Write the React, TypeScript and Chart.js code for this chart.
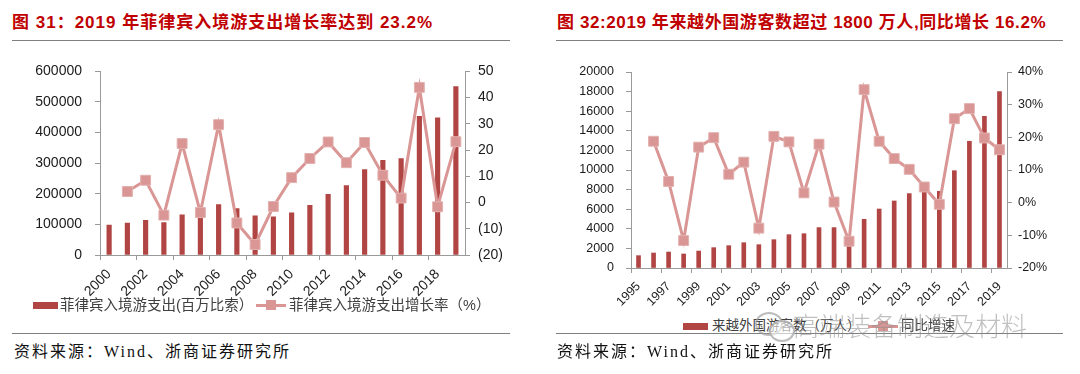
import React, { useEffect, useRef } from "react";
import { Chart, registerables } from "chart.js";

Chart.register(...registerables);

// ---------- Data: chart 31 (Philippines) ----------
const phYears = ["2000","2001","2002","2003","2004","2005","2006","2007","2008","2009","2010","2011","2012","2013","2014","2015","2016","2017","2018","2019"];
const phSpend = [98000,104000,113000,106000,131000,128000,165000,152000,128000,125000,138000,162000,198000,227000,279000,309000,315000,453000,448000,550000];
const phGrowth = [null,4.2,8.5,-4.8,22.5,-3.8,29.7,-7.8,-16,-1.5,9.5,16.8,23.1,15.2,22.9,10.4,1.7,43.9,-1.6,23.2];
const phBarLabel = "菲律宾入境游支出(百万比索）";
const phLineLabel = "菲律宾入境游支出增长率（%）";

// ---------- Data: chart 32 (Vietnam) ----------
const vnYears = ["1995","1996","1997","1998","1999","2000","2001","2002","2003","2004","2005","2006","2007","2008","2009","2010","2011","2012","2013","2014","2015","2016","2017","2018","2019"];
const vnVisitors = [1260,1530,1630,1430,1730,2075,2280,2580,2380,2890,3400,3500,4120,4120,3160,4970,6020,6840,7590,7900,7820,9930,12930,15480,17990];
const vnGrowth = [null,18.8,6.5,-11.6,17.0,19.9,8.7,12.4,-7.8,20.3,18.6,3.0,17.9,0.2,-11.8,34.6,18.8,13.5,10.2,4.8,-0.5,25.7,28.8,19.8,16.2];
const vnBarLabel = "来越外国游客数（万人）";
const vnLineLabel = "同比增速";

const BAR = "#B04543";
const LINE = "#D99694";
const AXIS = "#9a9a9a";
const TXT = "#1a1a1a";
const SANS = "'Liberation Sans', Arial, sans-serif";
const CJK = "'Liberation Sans', 'Noto Sans CJK SC', sans-serif";

function tickColor(ctx: any) {
  return ctx.index % 2 === 0 ? AXIS : "rgba(0,0,0,0)";
}

type Cfg = {
  labels: string[];
  bars: number[];
  line: (number | null)[];
  w: number;
  h: number;
  leftW: number;
  rightW: number;
  top: number;
  bottomH: number;
  fontSize: number;
  barThickness: number;
  yMax: number;
  yStep: number;
  y1Min: number;
  y1Max: number;
  y1Step: number;
  y1Fmt: (v: number) => string;
  leftPad: number;
  rightPad: number;
  xPad: number;
};

function ComboChart({ cfg }: { cfg: Cfg }) {
  const ref = useRef<HTMLCanvasElement>(null);
  useEffect(() => {
    if (!ref.current) return;
    const font = { family: SANS, size: cfg.fontSize };
    const chart = new Chart(ref.current, {
      type: "bar",
      data: {
        labels: cfg.labels,
        datasets: [
          {
            type: "line",
            data: cfg.line as any,
            yAxisID: "y1",
            borderColor: LINE,
            backgroundColor: LINE,
            borderWidth: 3,
            pointStyle: "rect",
            pointRadius: 7,
            pointBackgroundColor: LINE,
            pointBorderColor: "#e2b1af",
            pointBorderWidth: 1,
            order: 0,
          } as any,
          {
            type: "bar",
            data: cfg.bars,
            yAxisID: "y",
            backgroundColor: BAR,
            barThickness: cfg.barThickness,
            order: 1,
          },
        ],
      },
      options: {
        responsive: false,
        animation: false,
        layout: { padding: { top: cfg.top, left: 0, right: 0, bottom: 0 } },
        plugins: { legend: { display: false }, tooltip: { enabled: false } },
        scales: {
          x: {
            offset: true,
            grid: {
              offset: true,
              drawOnChartArea: false,
              drawTicks: true,
              tickLength: 5,
              color: tickColor,
            },
            border: { color: AXIS, width: 1 },
            ticks: {
              autoSkip: false,
              maxRotation: 45,
              minRotation: 45,
              padding: cfg.xPad,
              color: TXT,
              font,
              callback: (_v: any, i: number) => (i % 2 === 0 ? cfg.labels[i] : ""),
            },
            afterFit: (s: any) => {
              s.height = cfg.bottomH;
            },
          },
          y: {
            position: "left",
            min: 0,
            max: cfg.yMax,
            grid: { drawOnChartArea: false, tickLength: 5, color: AXIS },
            border: { color: AXIS, width: 1 },
            ticks: {
              stepSize: cfg.yStep,
              padding: cfg.leftPad,
              color: TXT,
              font,
              callback: (v: any) => String(Math.round(Number(v))),
            },
            afterFit: (s: any) => {
              s.width = cfg.leftW;
            },
          },
          y1: {
            position: "right",
            min: cfg.y1Min,
            max: cfg.y1Max,
            grid: { drawOnChartArea: false, tickLength: 5, color: AXIS },
            border: { color: AXIS, width: 1 },
            ticks: {
              stepSize: cfg.y1Step,
              padding: cfg.rightPad,
              color: TXT,
              font,
              callback: (v: any) => cfg.y1Fmt(Number(v)),
            },
            afterFit: (s: any) => {
              s.width = cfg.rightW;
            },
          },
        },
      } as any,
    });
    return () => chart.destroy();
  }, [cfg]);
  return <canvas ref={ref} width={cfg.w} height={cfg.h} style={{ width: cfg.w, height: cfg.h, display: "block" }} />;
}

const phCfg: Cfg = {
  labels: phYears,
  bars: phSpend,
  line: phGrowth,
  w: 540,
  h: 250,
  leftW: 100,
  rightW: 75,
  top: 13,
  bottomH: 45,
  fontSize: 14,
  barThickness: 4.5,
  yMax: 600000,
  yStep: 100000,
  y1Min: -20,
  y1Max: 50,
  y1Step: 10,
  y1Fmt: (v) => (v < 0 ? `(${-v})` : `${v}`),
  leftPad: 13,
  rightPad: 8,
  xPad: 6,
};

const vnCfg: Cfg = {
  labels: vnYears,
  bars: vnVisitors,
  line: vnGrowth,
  w: 540,
  h: 260,
  leftW: 91,
  rightW: 73,
  top: 22,
  bottomH: 42,
  fontSize: 12.5,
  barThickness: 4,
  yMax: 20000,
  yStep: 2000,
  y1Min: -20,
  y1Max: 40,
  y1Step: 10,
  y1Fmt: (v) => `${Math.round(v)}%`,
  leftPad: 12,
  rightPad: 6,
  xPad: 6,
};

const titleStyle: React.CSSProperties = {
  position: "absolute",
  top: 11,
  fontFamily: CJK,
  fontWeight: 700,
  fontSize: 17,
  color: "#C00000",
  whiteSpace: "nowrap",
  lineHeight: "24px",
};
const ruleStyle = (left: number, top: number, width: number): React.CSSProperties => ({
  position: "absolute",
  left,
  top,
  width,
  height: 1,
  background: "#7f7f7f",
});
const sourceStyle: React.CSSProperties = {
  position: "absolute",
  top: 341,
  fontFamily: "'Liberation Serif', 'Noto Sans CJK SC', serif",
  fontSize: 16,
  letterSpacing: 2,
  color: "#111",
  whiteSpace: "nowrap",
  lineHeight: "22px",
};
const legendText: React.CSSProperties = {
  position: "absolute",
  fontFamily: CJK,
  fontSize: 14.5,
  color: "#404040",
  whiteSpace: "nowrap",
  lineHeight: "20px",
};

function LineSwatch({ left, top }: { left: number; top: number }) {
  return (
    <div style={{ position: "absolute", left, top, width: 30, height: 10 }}>
      <div style={{ position: "absolute", left: 0, top: 3.5, width: 30, height: 3, background: LINE }} />
      <div style={{ position: "absolute", left: 10, top: 0, width: 10, height: 10, background: LINE }} />
    </div>
  );
}

export default function App() {
  useEffect(() => {
    document.body.style.margin = "0";
  }, []);
  return (
    <div style={{ position: "relative", width: 1080, height: 374, background: "#fff", overflow: "hidden" }}>
      {/* Left panel */}
      <div style={{ ...titleStyle, left: 12, letterSpacing: 1 }}>图 31：2019 年菲律宾入境游支出增长率达到 23.2%</div>
      <div style={ruleStyle(12, 40, 498)} />
      <div style={{ position: "absolute", left: 0, top: 50 }}>
        <ComboChart cfg={phCfg} />
      </div>
      <div style={{ position: "absolute", left: 33, top: 302, width: 25, height: 7, background: BAR }} />
      <div style={{ ...legendText, left: 60, top: 295 }}>{phBarLabel}</div>
      <LineSwatch left={256} top={300} />
      <div style={{ ...legendText, left: 289, top: 295 }}>{phLineLabel}</div>
      <div style={ruleStyle(12, 333, 498)} />
      <div style={{ ...sourceStyle, left: 14 }}>资料来源：Wind、浙商证券研究所</div>

      {/* Right panel */}
      <div style={{ ...titleStyle, left: 557, letterSpacing: 0.6 }}>图 32:2019 年来越外国游客数超过 1800 万人,同比增长 16.2%</div>
      <div style={ruleStyle(556, 40, 507)} />
      <div style={{ position: "absolute", left: 540, top: 50 }}>
        <ComboChart cfg={vnCfg} />
      </div>
      <div style={{ position: "absolute", left: 683, top: 323, width: 25, height: 7, background: BAR }} />
      <div style={{ ...legendText, left: 712, top: 316, fontSize: 13.5 }}>{vnBarLabel}</div>
      <LineSwatch left={868} top={321} />
      <div style={{ ...legendText, left: 901, top: 316, fontSize: 13.5 }}>{vnLineLabel}</div>
      <div style={ruleStyle(556, 333, 507)} />
      <div style={{ ...sourceStyle, left: 557 }}>资料来源：Wind、浙商证券研究所</div>

      {/* Watermark */}
      <div style={{ position: "absolute", left: 755, top: 312, width: 24, height: 20, border: "2px solid rgba(160,160,160,0.7)", borderRadius: "50%" }} />
      <div style={{ position: "absolute", left: 769, top: 320, width: 22, height: 18, border: "2px solid rgba(160,160,160,0.7)", borderRadius: "50%", background: "rgba(255,255,255,0.6)" }} />
      <div
        style={{
          position: "absolute",
          left: 793,
          top: 308,
          fontFamily: "'Noto Sans CJK SC', sans-serif",
          fontWeight: 300,
          fontSize: 26,
          color: "rgba(140,140,140,0.55)",
          whiteSpace: "nowrap",
          lineHeight: "34px",
          letterSpacing: 0,
        }}
      >
        高端装备制造及材料
      </div>
    </div>
  );
}
